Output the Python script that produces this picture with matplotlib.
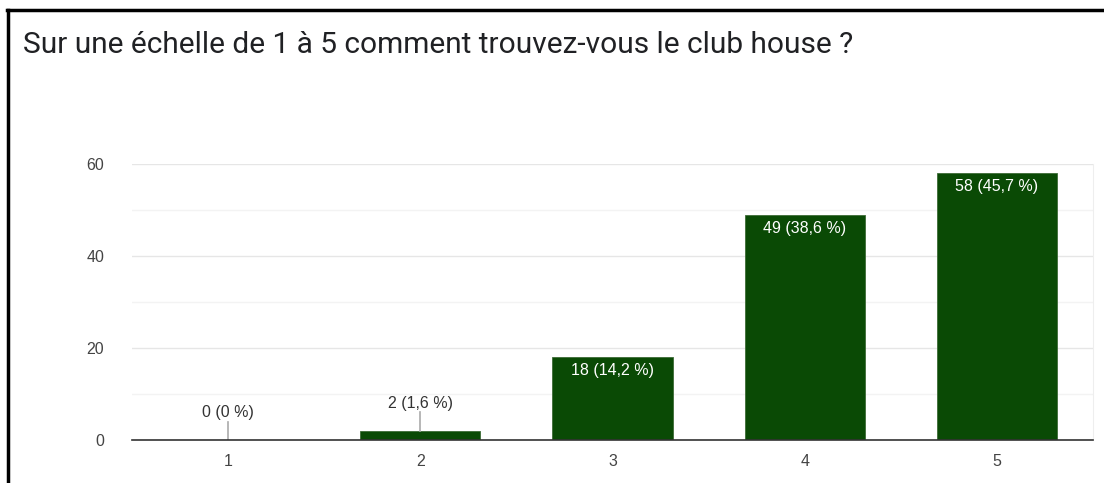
import matplotlib
matplotlib.use("Agg")
import matplotlib.pyplot as plt
from matplotlib.lines import Line2D

categories = ["1", "2", "3", "4", "5"]
counts = [0, 2, 18, 49, 58]
labels = ["0 (0 %)", "2 (1,6 %)", "18 (14,2 %)", "49 (38,6 %)", "58 (45,7 %)"]
yticks = [0, 20, 40, 60]
title = "Sur une échelle de 1 à 5 comment trouvez-vous le club house ?"

plt.rcParams['font.family'] = ['Liberation Sans', 'DejaVu Sans']

fig = plt.figure(figsize=(11.04, 4.83), dpi=100)
ax = fig.add_axes([132/1104, 1-440/483, (1093-132)/1104, (440-164)/483])

bar_color = '#0a4a05'
x = list(range(1, len(categories)+1))
ax.bar(x, counts, width=0.625, color=bar_color, edgecolor='#3d6b36', linewidth=0.6, zorder=3)
ax.set_xlim(0.5, 5.5)
ax.set_ylim(0, 60)

ax.set_yticks(yticks)
ax.set_yticks([10, 30, 50], minor=True)
ax.grid(axis='y', which='major', color='#e6e6e6', linewidth=1, zorder=0)
ax.grid(axis='y', which='minor', color='#f3f3f3', linewidth=1, zorder=0)
ax.set_xticks(x)
ax.set_xticklabels(categories)
ax.tick_params(axis='both', which='both', length=0, labelsize=11.5, colors='#444444')
ax.tick_params(axis='y', pad=20)
ax.tick_params(axis='x', pad=10)
for s in ['top', 'left']:
    ax.spines[s].set_visible(False)
ax.spines['right'].set_color('#eeeeee')
ax.spines['bottom'].set_color('#333333')
ax.spines['bottom'].set_linewidth(1.2)
ax.spines['bottom'].set_zorder(4)

for xi, c, lab in zip(x, counts, labels):
    if c < 10:
        ax.plot([xi, xi], [c, c + 4], color='#aaaaaa', linewidth=1.2, zorder=4)
        ax.text(xi, c + 4.3, lab, ha='center', va='bottom', fontsize=11.5, color='#333333')
    else:
        ax.text(xi, c - 1.3, lab, ha='center', va='top', fontsize=11.5, color='white', zorder=5)

fig.text(23/1104, 1-45/483, title, ha='left', va='center', fontsize=21.5, color='#202124',
         family=['Roboto', 'DejaVu Sans'])

fig.add_artist(Line2D([8/1104, 8/1104], [0, 1-10/483], color='black', linewidth=2.5, transform=fig.transFigure))
fig.add_artist(Line2D([7/1104, 1], [1-10/483, 1-10/483], color='black', linewidth=2.5, transform=fig.transFigure))

fig.savefig("out.png", dpi=100)
